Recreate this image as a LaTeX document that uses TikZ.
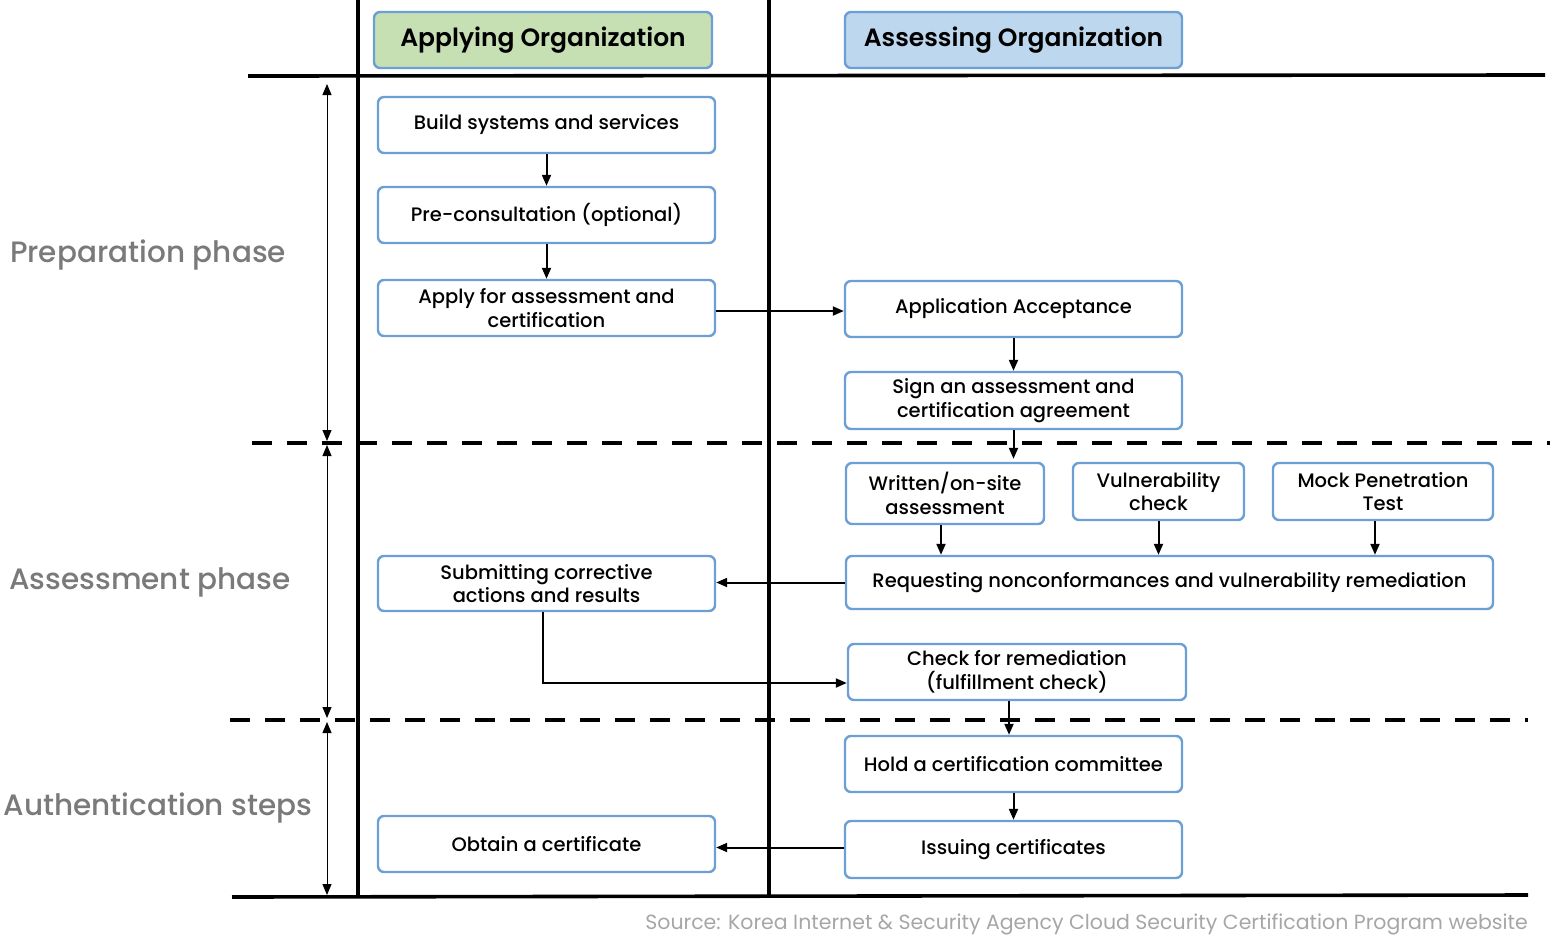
\documentclass[tikz,border=0pt]{standalone}
\usepackage{fontspec}
\setmainfont{Poppins}[BoldFont={Poppins Medium}]
\newfontfamily\hdrfont{Poppins SemiBold}
\usepackage{xcolor}
\usetikzlibrary{arrows.meta}
\definecolor{boxblue}{HTML}{6C9FD4}
\definecolor{hdrgreen}{HTML}{C6E0B4}
\definecolor{hdrblue}{HTML}{BDD7EE}
\definecolor{phasegray}{HTML}{7A7A7A}
\definecolor{srcgray}{HTML}{A6A6A6}

\begin{document}
\begin{tikzpicture}[x=1pt,y=-1pt,inner sep=1pt,
  box/.style={draw=boxblue,line width=2.4pt,rounded corners=6pt,fill=white,
    minimum width=337pt,minimum height=56pt,align=center,font=\fontsize{19.5}{23.5}\selectfont\bfseries},
  hdr/.style={box,font=\fontsize{25}{29}\selectfont\hdrfont},
  phase/.style={text=phasegray,font=\fontsize{29.5}{33}\selectfont\bfseries},
  arr/.style={line width=2pt,-{Triangle[length=11pt,width=9pt]}},
  span/.style={line width=1pt,{Triangle[length=11pt,width=9pt]}-{Triangle[length=11pt,width=9pt]}},
  rule/.style={line width=3.6pt},
  cut/.style={line width=3.6pt,dash pattern=on 20pt off 15pt}]
\useasboundingbox (0,0) rectangle (1553,946);
% frame
\draw[rule] (358,0) -- (358,897);
\draw[rule] (769,0) -- (769,895);
\draw[rule] (248,76) -- (1545,75);
\draw[rule] (232,897) -- (1528,895);
\draw[cut] (252,443) -- (1550,443);
\draw[cut] (230,720) -- (1528,720);
% headers
\node[hdr,fill=hdrgreen,minimum width=338pt] (hdrA) at (543,40) {Applying Organization};
\node[hdr,fill=hdrblue] (hdrB) at (1013.5,40) {Assessing Organization};
% applying side
\node[box] (build) at (546.5,125) {Build systems and services};
\node[box] (precon) at (546.5,215) {Pre-consultation (optional)};
\node[box] (apply) at (546.5,308) {Apply for assessment and\\certification};
\node[box,minimum height=55pt] (submit) at (546.5,583.5) {Submitting corrective\\actions and results};
\node[box] (obtain) at (546.5,844) {Obtain a certificate};
% assessing side
\node[box] (accept) at (1013.5,309) {Application Acceptance};
\node[box,minimum height=57pt] (sign) at (1013.5,400.5) {Sign an assessment and\\certification agreement};
\node[box,minimum width=198pt,minimum height=61pt] (written) at (945,493.5) {Written/on-site\\assessment};
\node[box,minimum width=171pt,minimum height=57pt] (vuln) at (1158.5,491.5) {Vulnerability\\check};
\node[box,minimum width=220pt,minimum height=57pt] (mock) at (1383,491.5) {Mock Penetration\\Test};
\node[box,minimum width=647pt,minimum height=53pt] (request) at (1169.5,582.5) {Requesting nonconformances and vulnerability remediation};
\node[box,minimum width=338pt] (check) at (1017,672) {Check for remediation\\(fulfillment check)};
\node[box] (hold) at (1013.5,764) {Hold a certification committee};
\node[box,minimum height=57pt] (issue) at (1013.5,849.5) {Issuing certificates};
% phases
\node[phase] (prep) at (148,255) {Preparation phase};
\node[phase] (asse) at (150,582) {Assessment phase};
\node[phase] (auth) at (158,808) {Authentication steps};
\coordinate (p0) at (327,84);
\coordinate (p1) at (327,441);
\coordinate (p2) at (327,445);
\coordinate (p3) at (327,718);
\coordinate (p4) at (327,722);
\coordinate (p5) at (327,895);
\draw[span] (p0) -- (p1);
\draw[span] (p2) -- (p3);
\draw[span] (p4) -- (p5);
% flow
\draw[arr] (build) -- (precon);
\draw[arr] (precon) -- (apply);
\draw[arr] ([yshift=-3pt]apply.east) -- ([yshift=-3pt]apply.east -| accept.west);
\draw[arr] (accept) -- (sign);
\draw[arr] (sign.south) -- ([yshift=3pt]sign.south |- written.north);
\draw[arr] ([xshift=-4pt]written.south) -- ([xshift=-4pt]written.south |- request.north);
\draw[arr] (vuln.south) -- (vuln.south |- request.north);
\draw[arr] ([xshift=-8pt]mock.south) -- ([xshift=-8pt]mock.south |- request.north);
\draw[arr] (request.west) -- (request.west -| submit.east);
\draw[arr] ([xshift=-4pt]submit.south) |- ([yshift=-11pt]check.west);
\draw[arr] ([xshift=-8pt]check.south) -- ([xshift=-8pt]check.south |- hold.north);
\draw[arr] (hold) -- (issue);
\draw[arr] ([yshift=2pt]issue.west) -- ([yshift=2pt]issue.west -| obtain.east);
% source
\node[anchor=east,text=srcgray,font=\fontsize{20.5}{24}\selectfont] (src) at (1529,924) {Source: Korea Internet \& Security Agency Cloud Security Certification Program website};
\end{tikzpicture}
\end{document}
